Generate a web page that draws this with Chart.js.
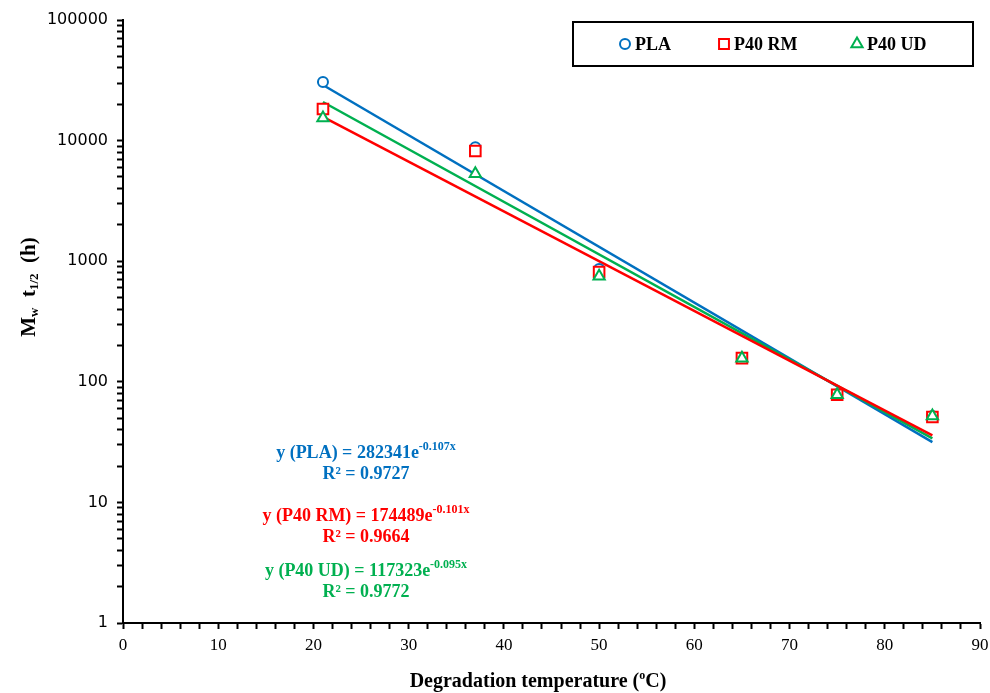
<!DOCTYPE html>
<html>
<head>
<meta charset="utf-8">
<script src="https://cdn.jsdelivr.net/npm/chart.js@4.4.1/dist/chart.umd.min.js"></script>
<style>
  html, body { margin: 0; padding: 0; background: #fff; }
  #wrap { width: 990px; height: 693px; }
</style>
</head>
<body>
<div id="wrap"><canvas id="chart" width="990" height="693"></canvas></div>
<script>
// -------------------------
// Data
// -------------------------
const temps = [21, 37, 50, 65, 75, 85];
const plaValues = [30600, 8800, 860, 158, 79, 52];
const rmValues = [18300, 8200, 813, 157, 78, 51];
const udValues = [15400, 5300, 750, 157, 78, 52];

// trend line end points (exponential fits, straight on log axis)
const trendTemps = [21, 85];
const plaTrend = [28900, 31.6];
const rmTrend = [15700, 36];
const udTrend = [20900, 34];

const xTicks = [0, 10, 20, 30, 40, 50, 60, 70, 80, 90];
const yTicks = [1, 10, 100, 1000, 10000, 100000];

const seriesNames = ['PLA', 'P40 RM', 'P40 UD'];
const equations = [
    { text: 'y (PLA) = 282341e', sup: '-0.107x', r2: 'R² = 0.9727' },
    { text: 'y (P40 RM) = 174489e', sup: '-0.101x', r2: 'R² = 0.9664' },
    { text: 'y (P40 UD) = 117323e', sup: '-0.095x', r2: 'R² = 0.9772' }
];

const BLUE = '#0070C0', RED = '#FF0000', GREEN = '#00B050';
const SERIF = '"Liberation Serif", "Times New Roman", serif';

function pts(xs, ys) {
    return xs.map((x, i) => ({ x: x, y: ys[i] }));
}

function markerSet(label, values, color, style, radius, order) {
    return {
        label: label,
        data: pts(temps, values),
        showLine: false,
        pointStyle: style,
        pointRadius: radius,
        pointHoverRadius: radius,
        pointBorderWidth: 2,
        pointBorderColor: color,
        pointBackgroundColor: '#fff',
        borderColor: color,
        backgroundColor: '#fff',
        order: order
    };
}

function trendSet(values, color, order) {
    return {
        label: 'trend',
        data: pts(trendTemps, values),
        showLine: true,
        borderColor: color,
        borderWidth: 2.5,
        pointRadius: 0,
        pointHoverRadius: 0,
        fill: false,
        order: order
    };
}

// -------------------------
// Draw text made of runs (normal / sub / sup)
// -------------------------
function runsWidth(ctx, runs) {
    let w = 0;
    runs.forEach(r => { ctx.font = r.font; w += ctx.measureText(r.t).width; });
    return w;
}
function drawRuns(ctx, runs, cx, cy, color) {
    let x = cx - runsWidth(ctx, runs) / 2;
    ctx.fillStyle = color;
    ctx.textBaseline = 'middle';
    ctx.textAlign = 'left';
    runs.forEach(r => {
        ctx.font = r.font;
        ctx.fillText(r.t, x, cy + (r.dy || 0));
        x += ctx.measureText(r.t).width;
    });
}

// -------------------------
// Extras: titles, legend box, equations
// -------------------------
const extrasPlugin = {
    id: 'extras',
    afterDraw(chart) {
        const ctx = chart.ctx;
        ctx.save();

        // y axis title
        ctx.translate(30, 287);
        ctx.rotate(-Math.PI / 2);
        const big = 'bold 21px ' + SERIF, small = 'bold 13px ' + SERIF;
        drawRuns(ctx, [
            { t: 'M', font: big },
            { t: 'w', font: small, dy: 5 },
            { t: '  t', font: big },
            { t: '1/2', font: small, dy: 5 },
            { t: '  (h)', font: big }
        ], 0, 0, '#000');
        ctx.setTransform(1, 0, 0, 1, 0, 0);

        // x axis title
        drawRuns(ctx, [
            { t: 'Degradation temperature (', font: 'bold 20px ' + SERIF },
            { t: 'o', font: 'bold 12px ' + SERIF, dy: -6 },
            { t: 'C)', font: 'bold 20px ' + SERIF }
        ], 538, 682, '#000');

        // legend box
        ctx.strokeStyle = '#000';
        ctx.lineWidth = 2;
        ctx.strokeRect(573, 22, 400, 44);
        const legendItems = [
            { x: 625, style: 'circle', r: 5, color: BLUE },
            { x: 724, style: 'rect', r: 7, color: RED },
            { x: 857, style: 'triangle', r: 6.5, color: GREEN }
        ];
        legendItems.forEach((it, i) => {
            ctx.strokeStyle = it.color;
            ctx.fillStyle = '#fff';
            ctx.lineWidth = 2;
            Chart.helpers.drawPoint(ctx, { pointStyle: it.style, radius: it.r, borderWidth: 2 }, it.x, 44);
            ctx.fillStyle = '#000';
            ctx.font = 'bold 18px ' + SERIF;
            ctx.textAlign = 'left';
            ctx.textBaseline = 'middle';
            ctx.fillText(seriesNames[i], it.x + 10, 45);
        });

        // equations
        const eqColors = [BLUE, RED, GREEN];
        const eqY = [453, 516, 571];
        equations.forEach((eq, i) => {
            drawRuns(ctx, [
                { t: eq.text, font: 'bold 18px ' + SERIF },
                { t: eq.sup, font: 'bold 12px ' + SERIF, dy: -6 }
            ], 366, eqY[i], eqColors[i]);
            drawRuns(ctx, [{ t: eq.r2, font: 'bold 18px ' + SERIF }], 366, eqY[i] + 21, eqColors[i]);
        });

        ctx.restore();
    }
};

// -------------------------
// Chart
// -------------------------
const ctx = document.getElementById('chart').getContext('2d');
const chart = new Chart(ctx, {
    type: 'scatter',
    data: {
        datasets: [
            markerSet('PLA', plaValues, BLUE, 'circle', 5, 2),
            markerSet('P40 RM', rmValues, RED, 'rect', 7.5, 1),
            markerSet('P40 UD', udValues, GREEN, 'triangle', 6.5, 0),
            trendSet(rmTrend, RED, 3),
            trendSet(udTrend, GREEN, 4),
            trendSet(plaTrend, BLUE, 5)
        ]
    },
    options: {
        responsive: false,
        animation: false,
        layout: { padding: { top: 20, right: 10, bottom: 0, left: 0 } },
        plugins: { legend: { display: false }, tooltip: { enabled: false } },
        scales: {
            x: {
                type: 'linear',
                min: 0, max: 90,
                afterFit: s => { s.height = 70; s.paddingRight = 0; s.paddingLeft = 0; },
                afterBuildTicks: s => {
                    const t = [];
                    for (let v = 0; v <= 90; v += 2) t.push({ value: v });
                    s.ticks = t;
                },
                ticks: {
                    autoSkip: false,
                    maxRotation: 0,
                    padding: 6,
                    color: '#000',
                    font: { family: SERIF, size: 17 },
                    callback: v => xTicks.includes(v) ? String(v) : ''
                },
                grid: { drawOnChartArea: false, drawTicks: true, tickLength: 6, tickColor: '#000', tickWidth: 2 },
                border: { color: '#000', width: 2 }
            },
            y: {
                type: 'logarithmic',
                min: 1, max: 100000,
                afterFit: s => { s.width = 123; s.paddingTop = 0; s.paddingBottom = 0; },
                afterBuildTicks: s => {
                    const t = [];
                    for (let d = 0; d < 5; d++) {
                        for (let m = 1; m <= 9; m++) t.push({ value: m * Math.pow(10, d) });
                    }
                    t.push({ value: 100000 });
                    s.ticks = t;
                },
                ticks: {
                    autoSkip: false,
                    padding: 9,
                    color: '#000',
                    font: { family: '"DejaVu Sans", Verdana, sans-serif', size: 16 },
                    callback: v => yTicks.includes(v) ? String(v) : ''
                },
                grid: { drawOnChartArea: false, drawTicks: true, tickLength: 6, tickColor: '#000', tickWidth: 2 },
                border: { color: '#000', width: 2 }
            }
        }
    },
    plugins: [extrasPlugin]
});
</script>
</body>
</html>
